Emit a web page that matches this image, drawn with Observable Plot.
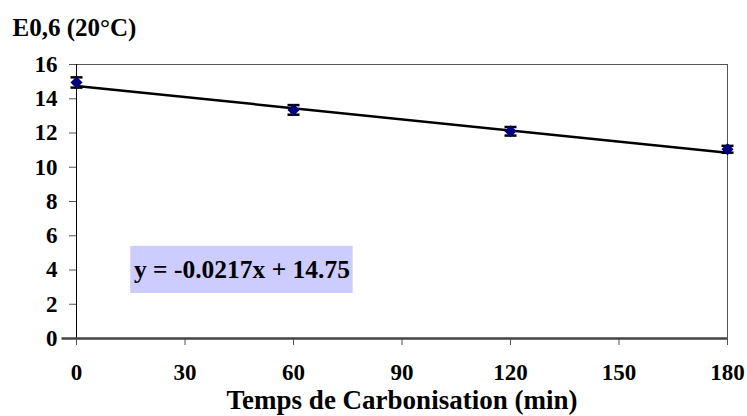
<!DOCTYPE html>
<html>
<head>
<meta charset="utf-8">
<script src="https://cdn.jsdelivr.net/npm/d3@7"></script>
<script src="https://cdn.jsdelivr.net/npm/@observablehq/plot@0.6"></script>
<style>
  html, body { margin: 0; padding: 0; background: #fff; }
  #chart svg { display: block; }
  #chart svg, #chart svg text, #chart svg g {
    font-family: "Liberation Serif", "Times New Roman", serif !important;
    font-weight: bold;
  }
</style>
</head>
<body>
<div id="chart"></div>
<script>
// ---- data ----
const times = [0, 60, 120, 180];            // Temps de Carbonisation (min)
const e06 = [14.95, 13.35, 12.1, 11.05];    // E0,6 (20°C)
const errs = [0.3, 0.28, 0.25, 0.2];        // error bar half-widths
const xTicks = [0, 30, 60, 90, 120, 150, 180];
const yTicks = [0, 2, 4, 6, 8, 10, 12, 14, 16];
// trend line from the printed equation
const slope = -0.0217;
const intercept = 14.75;
const equationLabel = "y = -0.0217x + 14.75";
const titleLabel = "E0,6 (20°C)";
const xLabel = "Temps de Carbonisation (min)";
// annotation box (data coordinates)
const boxX = [15, 76.5];
const boxY = [2.63, 5.38];

const data = times.map((t, i) => ({t, v: e06[i], lo: e06[i] - errs[i], hi: e06[i] + errs[i]}));
const trend = [times[0], times[times.length - 1]].map(t => ({t, v: slope * t + intercept}));
const box = [{x1: boxX[0], x2: boxX[1], y1: boxY[0], y2: boxY[1]}];

const capSymbol = {
  draw(ctx) { ctx.moveTo(-6, 0); ctx.lineTo(6, 0); }
};

const font = "Liberation Serif";

const chart = Plot.plot({
  width: 747,
  height: 416,
  marginLeft: 76,
  marginRight: 20,
  marginTop: 64,
  marginBottom: 78,
  style: {fontFamily: font, fontWeight: "bold", fontSize: "23px", color: "#000", background: "#fff"},
  x: {domain: [0, 180]},
  y: {domain: [0, 16]},
  marks: [
    Plot.frame({stroke: "#555", strokeWidth: 1}),
    Plot.rect(box, {x1: "x1", x2: "x2", y1: "y1", y2: "y2", fill: "#ccccff"}),
    Plot.text([equationLabel], {x: (boxX[0] + boxX[1]) / 2, y: (boxY[0] + boxY[1]) / 2, fontSize: 25.5, fontFamily: font, fontWeight: "bold", fill: "#000"}),
    Plot.axisY({ticks: yTicks, tickSize: 7, tickPadding: 12, label: null, stroke: "#555", fontSize: 23, fontFamily: font, fontWeight: "bold"}),
    Plot.axisX({ticks: xTicks, tickSize: 7, tickPadding: 18, label: null, stroke: "#555", fontSize: 23, fontFamily: font, fontWeight: "bold"}),
    Plot.ruleX([0], {stroke: "#000", strokeWidth: 1}),
    Plot.ruleY([0], {x1: -4, x2: 180, stroke: "#444", strokeWidth: 2.5, clip: false}),
    Plot.line(trend, {x: "t", y: "v", stroke: "#000", strokeWidth: 2.5}),
    Plot.ruleX(data, {x: "t", y1: "lo", y2: "hi", stroke: "#000", strokeWidth: 2}),
    Plot.dot(data, {x: "t", y: "lo", symbol: capSymbol, r: 6, stroke: "#000", strokeWidth: 2.5}),
    Plot.dot(data, {x: "t", y: "hi", symbol: capSymbol, r: 6, stroke: "#000", strokeWidth: 2.5}),
    Plot.dot(data, {x: "t", y: "v", symbol: "diamond2", r: 4.5, fill: "#000080", stroke: "#000080"}),
    Plot.text([titleLabel], {frameAnchor: "top-left", dx: -64, dy: -37, textAnchor: "start", lineAnchor: "middle", fontSize: 25, fontFamily: font, fontWeight: "bold", fill: "#000"}),
    Plot.text([xLabel], {frameAnchor: "bottom", dy: 62, lineAnchor: "middle", fontSize: 27, fontFamily: font, fontWeight: "bold", fill: "#000"})
  ]
});
document.getElementById("chart").appendChild(chart);
</script>
</body>
</html>
